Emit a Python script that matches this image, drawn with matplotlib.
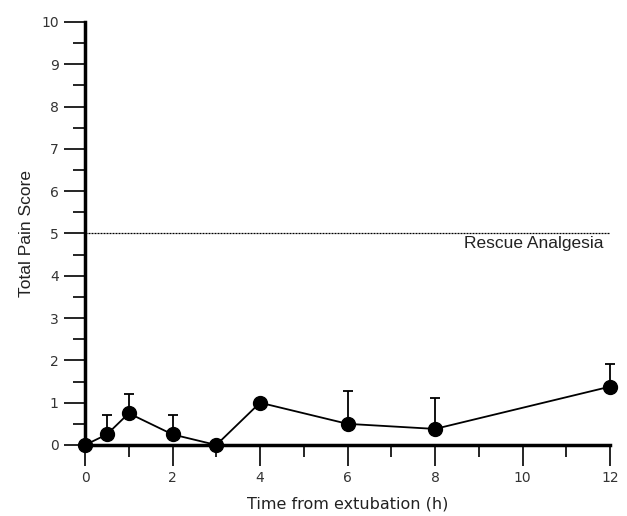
import matplotlib
matplotlib.use('Agg')
import matplotlib.pyplot as plt
from matplotlib.ticker import MultipleLocator

# data
hours = [0, 0.5, 1, 2, 3, 4, 6, 8, 12]
pain = [0, 0.25, 0.75, 0.25, 0, 1.0, 0.5, 0.38, 1.38]
pain_sd = [0, 0.45, 0.45, 0.45, 0, 0, 0.78, 0.72, 0.53]

rescue_level = 5

plt.rcParams['font.family'] = ['Liberation Sans', 'DejaVu Sans']

fig = plt.figure(figsize=(6.27, 5.16), dpi=100)
ax = fig.add_axes([0.1356, 0.1376, 0.8374, 0.8198])

ax.errorbar(hours, pain, yerr=[[0]*len(pain_sd), pain_sd], fmt='-o',
            color='black', lw=1.3, ms=10, ecolor='black', elinewidth=1.3,
            capsize=3.5, capthick=1.3, zorder=3, clip_on=False)

ax.plot([0, 12], [rescue_level, rescue_level], ls=(0, (1.6, 0.8)), color='black', lw=0.9)
ax.text(11.85, rescue_level - 0.07, 'Rescue Analgesia', ha='right', va='top',
        fontsize=12.5, color='#222222')

ax.set_xlim(0, 12)
ax.set_ylim(0, 10)
ax.xaxis.set_major_locator(MultipleLocator(2))
ax.xaxis.set_minor_locator(MultipleLocator(1))
ax.yaxis.set_major_locator(MultipleLocator(1))
ax.yaxis.set_minor_locator(MultipleLocator(0.5))

for s in ['top', 'right']:
    ax.spines[s].set_visible(False)
for s in ['left', 'bottom']:
    ax.spines[s].set_linewidth(2.5)

ax.tick_params(axis='both', which='major', length=15, width=1.2, labelsize=10,
               direction='out', pad=4)
ax.tick_params(axis='both', which='minor', length=8.5, width=1.2, direction='out')
for lbl in ax.get_xticklabels() + ax.get_yticklabels():
    lbl.set_family(['DejaVu Sans'])
    lbl.set_color('#333333')

ax.set_xlabel('Time from extubation (h)', fontsize=11.5, labelpad=8,
              family=['DejaVu Sans'], color='#222222')
ax.set_ylabel('Total Pain Score', fontsize=12.5, labelpad=5, color='#222222')

fig.savefig('out.png', dpi=100)
